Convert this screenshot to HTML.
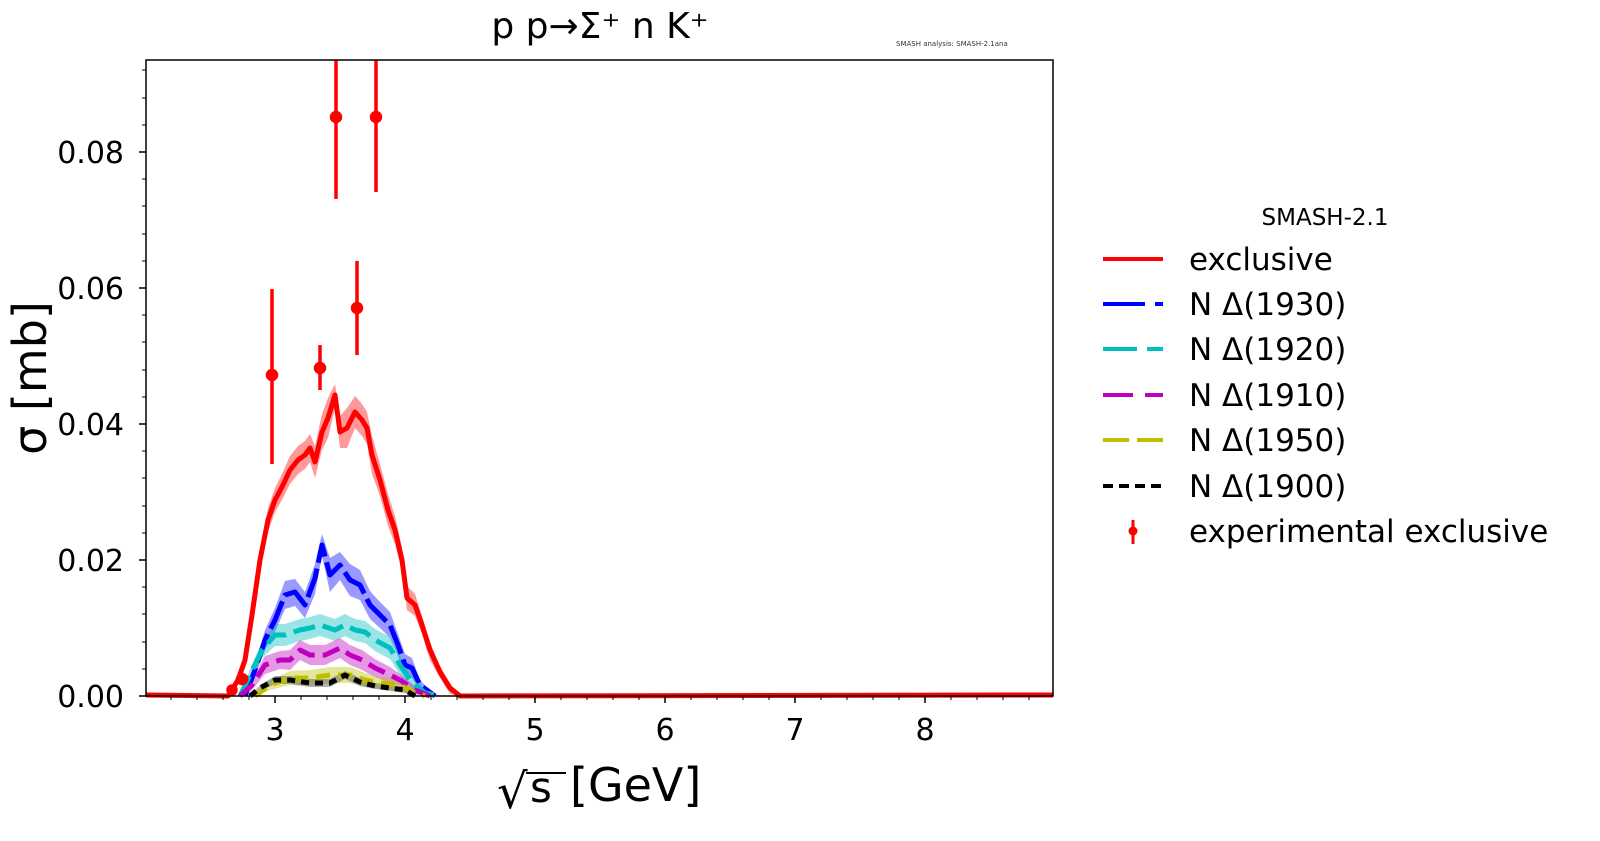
<!DOCTYPE html>
<html><head><meta charset="utf-8"><style>
body{margin:0;background:#fff}
svg text{font-family:"DejaVu Sans","Liberation Sans",sans-serif}
</style></head><body>
<svg width="1600" height="836" xmlns="http://www.w3.org/2000/svg">
<rect width="1600" height="836" fill="#fff"/>
<g fill-opacity="0.4" stroke="none">
<polyline fill="#ff0000" points="228,696 238,676 245,652 252,606 260,549 268,508 275,488 282,474 290,456 298,446 305,441 310,434 315,446 322,414 328,398 335,384 340,416 347,408 355,396 362,404 367,412 372,436 380,464 388,494 395,516 402,548 407,586 415,594 422,616 430,642 440,666 450,684 460,696 460,696 450,694 440,678 430,660 422,634 415,616 407,610 402,572 395,544 388,526 380,496 372,474 367,444 362,436 355,428 347,448 340,448 335,408 328,438 322,450 315,478 310,462 305,469 298,474 290,484 282,500 275,512 268,532 260,571 252,624 245,668 238,684"/>
<polyline fill="#0000ff" points="245,696 255,664 265,630 275,608 285,581 295,579 305,592 315,564 322,534 330,558 340,552 350,564 360,570 370,591 380,602 390,612 398,634 405,654 412,658 420,680 435,696 420,690 412,678 405,676 398,656 390,638 380,628 370,619 360,600 350,596 340,580 330,592 322,556 315,594 305,618 295,606 285,609 275,632 265,650 255,676"/>
<polyline fill="#00bfbf" points="240,696 250,669 262,642 275,624 285,624 300,619 310,617 320,614 335,619 345,614 355,619 365,621 375,629 390,637 400,655 410,673 425,690 440,696 425,696 410,687 400,675 390,659 375,651 365,643 355,641 345,636 335,641 320,636 310,639 300,641 285,646 275,646 262,658 250,681"/>
<polyline fill="#bf00bf" points="240,696 252,680 265,656 280,651 290,650 300,640 310,645 325,645 340,638 350,645 362,650 375,659 390,667 400,674 415,686 430,696 415,694 400,686 390,683 375,677 362,670 350,665 340,658 325,665 310,665 300,660 290,670 280,669 265,674 252,690"/>
<polyline fill="#bfbf00" points="255,696 270,680 290,671 310,670 330,667 350,667 365,673 380,677 400,679 415,689 425,696 415,696 400,691 380,689 365,687 350,683 330,683 310,686 290,685 270,690"/>
<polyline fill="#404040" points="250,696 260,685 275,676 290,676 310,679 330,679 345,671 360,678 375,683 390,685 405,687 415,696 405,693 390,691 375,689 360,686 345,679 330,687 310,687 290,684 275,684 260,691"/>
</g>
<g fill="none" stroke-width="5" stroke-linejoin="round">
<polyline stroke="#ff0000" points="146,695 228,696 238,680 245,660 252,615 260,560 268,520 275,500 282,487 290,470 298,460 305,455 310,448 315,462 322,432 328,418 335,395 340,432 347,428 355,412 362,420 367,428 372,455 380,480 388,510 395,530 402,560 407,598 415,605 422,625 430,650 440,672 450,688 460,696 1053,695"/>
<polyline stroke="#0000ff" stroke-dasharray="30,6" points="245,696 255,670 265,640 275,620 285,595 295,592 305,605 315,578 322,545 330,575 340,565 350,580 360,585 370,605 380,615 390,625 398,645 405,665 412,668 420,685 435,696"/>
<polyline stroke="#00bfbf" stroke-dasharray="22,8" points="240,696 250,675 262,650 275,635 285,635 300,630 310,628 320,625 335,630 345,625 355,630 365,632 375,640 390,648 400,665 410,680 425,693 440,696"/>
<polyline stroke="#bf00bf" stroke-dasharray="18,8" points="240,696 252,685 265,665 280,660 290,660 300,650 310,655 325,655 340,648 350,655 362,660 375,668 390,675 400,680 415,690 430,696"/>
<polyline stroke="#bfbf00" stroke-dasharray="14,8" points="255,696 270,685 290,678 310,678 330,675 350,675 365,680 380,683 400,685 415,693 425,696"/>
<polyline stroke="#000" stroke-dasharray="8,6" points="250,696 260,688 275,680 290,680 310,683 330,683 345,675 360,682 375,686 390,688 405,690 415,696"/>
</g>
<g stroke="#ff0000" stroke-width="3.5" fill="#ff0000">
<line x1="272" y1="289" x2="272" y2="464"/><circle cx="272" cy="375" r="4.5"/>
<line x1="320" y1="345" x2="320" y2="390"/><circle cx="320" cy="368" r="4.5"/>
<line x1="336" y1="60" x2="336" y2="199"/><circle cx="336" cy="117" r="4.5"/>
<line x1="357" y1="261" x2="357" y2="355"/><circle cx="357" cy="308" r="4.5"/>
<line x1="376" y1="60" x2="376" y2="192"/><circle cx="376" cy="117" r="4.5"/>
<circle cx="242" cy="679" r="4.5"/><circle cx="232" cy="690" r="4"/>
</g>
<rect x="146" y="60" width="907" height="636" fill="none" stroke="#000" stroke-width="1.5"/>
<g font-size="30" text-anchor="middle">
<text x="275" y="740">3</text><text x="405" y="740">4</text><text x="535" y="740">5</text><text x="665" y="740">6</text><text x="795" y="740">7</text><text x="925" y="740">8</text>
</g>
<g font-size="30" text-anchor="end">
<text x="124" y="707">0.00</text><text x="124" y="571">0.02</text><text x="124" y="435">0.04</text><text x="124" y="299">0.06</text><text x="124" y="163">0.08</text>
</g>
<text x="600" y="38" font-size="36" text-anchor="middle">p p→Σ⁺ n K⁺</text>
<text x="896" y="46" font-size="7" fill="#333">SMASH analysis: SMASH-2.1ana</text>
<text transform="translate(46,378) rotate(-90)" font-size="46" text-anchor="middle">σ [mb]</text>
<text x="497" y="808" font-size="48" font-family="Liberation Serif">√</text>
<line x1="526" y1="773" x2="566" y2="773" stroke="#000" stroke-width="2"/>
<text x="530" y="802" font-size="42" font-family="Liberation Serif,serif">s</text>
<text x="570" y="801" font-size="46">[GeV]</text>
<text x="1325" y="225" font-size="23" text-anchor="middle">SMASH-2.1</text>
<g font-size="31">
<text x="1189" y="270">exclusive</text><text x="1189" y="315">N Δ(1930)</text><text x="1189" y="360">N Δ(1920)</text><text x="1189" y="406">N Δ(1910)</text><text x="1189" y="451">N Δ(1950)</text><text x="1189" y="497">N Δ(1900)</text><text x="1189" y="542">experimental exclusive</text>
</g>
<g stroke-width="4">
<line x1="1103" y1="259" x2="1163" y2="259" stroke="#ff0000"/>
<line x1="1103" y1="304" x2="1163" y2="304" stroke="#0000ff" stroke-dasharray="42,10"/>
<line x1="1103" y1="349" x2="1163" y2="349" stroke="#00bfbf" stroke-dasharray="34,10"/>
<line x1="1103" y1="395" x2="1163" y2="395" stroke="#bf00bf" stroke-dasharray="30,12"/>
<line x1="1103" y1="440" x2="1163" y2="440" stroke="#bfbf00" stroke-dasharray="26,8"/>
<line x1="1103" y1="486" x2="1163" y2="486" stroke="#000" stroke-dasharray="10,6"/>
<line x1="1133" y1="520" x2="1133" y2="544" stroke="#ff0000" stroke-width="3"/>
</g>
<circle cx="1133" cy="531" r="4.5" fill="#ff0000"/>
<g stroke="#000" stroke-width="1.5">
<line x1="275" y1="696" x2="275" y2="703"/><line x1="405" y1="696" x2="405" y2="703"/><line x1="535" y1="696" x2="535" y2="703"/><line x1="665" y1="696" x2="665" y2="703"/><line x1="795" y1="696" x2="795" y2="703"/><line x1="925" y1="696" x2="925" y2="703"/>
<line x1="139" y1="696" x2="146" y2="696"/><line x1="139" y1="560" x2="146" y2="560"/><line x1="139" y1="424" x2="146" y2="424"/><line x1="139" y1="288" x2="146" y2="288"/><line x1="139" y1="152" x2="146" y2="152"/>
</g>
<g stroke="#000" stroke-width="1">
<path d="M171,696v4M197,696v4M223,696v4M249,696v4M301,696v4M327,696v4M353,696v4M379,696v4M431,696v4M457,696v4M483,696v4M509,696v4M561,696v4M587,696v4M613,696v4M639,696v4M691,696v4M717,696v4M743,696v4M769,696v4M821,696v4M847,696v4M873,696v4M899,696v4M951,696v4M977,696v4M1003,696v4M1029,696v4"/>
<path d="M142,669h4M142,642h4M142,614h4M142,587h4M142,533h4M142,506h4M142,478h4M142,451h4M142,397h4M142,370h4M142,342h4M142,315h4M142,261h4M142,234h4M142,206h4M142,179h4M142,125h4M142,98h4M142,70h4"/>
</g>
</svg>
</body></html>
